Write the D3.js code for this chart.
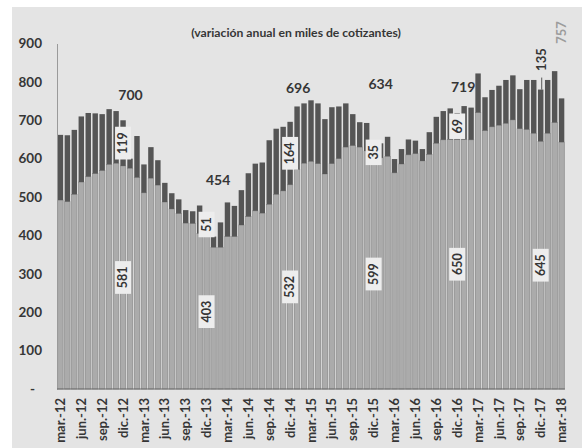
<!DOCTYPE html>
<html><head><meta charset="utf-8">
<script src="https://cdn.jsdelivr.net/npm/d3@7"></script>
<style>
body{margin:0;background:#fff}
svg{display:block}
text{font-family:Lato,"Open Sans",sans-serif;font-weight:bold}
</style>
</head><body><svg id="c" width="582" height="448"></svg>
<script>
// ---- data ----
const months = [
"mar.-12","abr.-12","may.-12","jun.-12","jul.-12","ago.-12","sep.-12","oct.-12","nov.-12","dic.-12",
"ene.-13","feb.-13","mar.-13","abr.-13","may.-13","jun.-13","jul.-13","ago.-13","sep.-13","oct.-13","nov.-13","dic.-13",
"ene.-14","feb.-14","mar.-14","abr.-14","may.-14","jun.-14","jul.-14","ago.-14","sep.-14","oct.-14","nov.-14","dic.-14",
"ene.-15","feb.-15","mar.-15","abr.-15","may.-15","jun.-15","jul.-15","ago.-15","sep.-15","oct.-15","nov.-15","dic.-15",
"ene.-16","feb.-16","mar.-16","abr.-16","may.-16","jun.-16","jul.-16","ago.-16","sep.-16","oct.-16","nov.-16","dic.-16",
"ene.-17","feb.-17","mar.-17","abr.-17","may.-17","jun.-17","jul.-17","ago.-17","sep.-17","oct.-17","nov.-17","dic.-17",
"ene.-18","feb.-18","mar.-18"];
// total annual variation (light + dark)
const totalSeries = [
662,661,675,710,719,718,716,729,724,700,
600,659,585,630,596,537,510,494,466,463,478,454,
397,434,486,477,518,562,587,590,648,678,683,696,
736,744,752,744,703,734,736,744,716,695,693,634,
640,657,599,625,650,647,625,669,709,724,731,719,
737,733,822,760,779,790,805,817,781,805,805,780,
805,828,757];
// light (lower) component
const baseSeries = [
492,488,507,539,553,561,569,585,588,581,
575,551,511,549,531,487,469,457,432,431,405,403,
369,369,397,397,427,449,464,458,481,507,516,532,
572,588,593,587,560,587,600,630,634,630,620,599,
602,606,563,586,610,613,594,611,640,649,650,650,
650,649,720,673,683,687,692,701,678,676,666,645,
666,694,643];
const yTicks = [0,100,200,300,400,500,600,700,800,900];
const xTickLabels = months.filter((d,i)=>i%3===0);
const highlighted = ["dic.-12","dic.-13","dic.-14","dic.-15","dic.-16","dic.-17"];
const totalLabelled = ["dic.-12","dic.-13","dic.-14","dic.-15","dic.-16"];
const title = "(variación anual en miles de cotizantes)";

// ---- layout ----
const W=582,H=448;
const svg=d3.select("#c");
svg.append("rect").attr("x",12).attr("y",7).attr("width",W-12).attr("height",H-7).attr("fill","#e4e4e4");

const x=d3.scaleBand().domain(months).range([57,565]).paddingInner(0.22).paddingOuter(0.1);
const y=d3.scaleLinear().domain([0,900]).range([389,43.5]);
const txt="#363636";

const rows=months.map((m,i)=>({m,total:totalSeries[i],base:baseSeries[i]}));

// bars
const gb=svg.append("g");
gb.selectAll("rect.base").data(rows).join("rect").attr("class","base")
  .attr("x",d=>x(d.m)).attr("width",x.bandwidth())
  .attr("y",d=>y(d.base)).attr("height",d=>y(0)-y(d.base))
  .attr("fill","#ababab").attr("stroke","#8a8a8a").attr("stroke-width",0.7);
gb.selectAll("rect.top").data(rows).join("rect").attr("class","top")
  .attr("x",d=>x(d.m)).attr("width",x.bandwidth())
  .attr("y",d=>y(d.total)).attr("height",d=>y(d.base)-y(d.total))
  .attr("fill","#555555");

// axes
const ya=svg.append("g").attr("transform","translate(57,0)")
  .call(d3.axisLeft(y).tickValues(yTicks).tickSize(0).tickSizeOuter(0).tickPadding(15)
  .tickFormat(d=>d===0?"-":d));
ya.select(".domain").attr("stroke","#9a9a9a");
ya.selectAll("text").attr("font-size",13.5).attr("fill",txt).attr("font-family","Lato")
  .attr("dx",d=>d===0?-7:0);

const xa=svg.append("g").attr("transform","translate(0,389)")
  .call(d3.axisBottom(x).tickValues(xTickLabels).tickSize(0).tickSizeOuter(0));
xa.select(".domain").attr("stroke","#6a6a6a").attr("d","M57,0H565");
xa.selectAll("text").attr("font-size",13).attr("fill",txt).attr("font-family","Lato")
  .attr("transform","rotate(-90)").attr("text-anchor","end")
  .attr("x",-9).attr("y",0).attr("dy","0.35em");

// title
svg.append("text").attr("x",296).attr("y",37).attr("text-anchor","middle")
  .attr("font-size",12.2).attr("fill",txt).text(title);

// boxed rotated labels
const ga=svg.append("g");
function boxedLabel(cx,cy,str){
  const g=ga.append("g").attr("transform",`translate(${cx},${cy})`);
  const r=g.append("rect").attr("fill","#ededed");
  const t=g.append("text").attr("transform","rotate(-90)").attr("text-anchor","middle")
    .attr("dy","0.35em").attr("font-size",12.5).attr("fill",txt).text(str);
  const L=t.node().getComputedTextLength();
  const h=L+11, w=16;
  r.attr("x",-w/2).attr("y",-h/2).attr("width",w).attr("height",h);
}
rows.filter(d=>highlighted.includes(d.m)).forEach(d=>{
  const cx=x(d.m)+x.bandwidth()/2;
  boxedLabel(cx,(y(0)+y(d.base))/2,String(d.base));
  if(d.m!=="dic.-17") boxedLabel(cx,(y(d.base)+y(d.total))/2,String(d.total-d.base));
});
// dic.-17 increment above bar with leader
{
  const d=rows.find(r=>r.m==="dic.-17");
  const cx=x(d.m)+x.bandwidth()/2;
  ga.append("text").attr("transform",`translate(${cx+1},${y(d.total)-30}) rotate(-90)`)
    .attr("text-anchor","middle").attr("dy","0.35em").attr("font-size",13).attr("fill",txt)
    .text(String(d.total-d.base));
  ga.append("line").attr("x1",cx+1).attr("x2",cx+1).attr("y1",y(d.total)-12).attr("y2",y(d.total))
    .attr("stroke","#333").attr("stroke-width",0.8);
}
// totals
const totalOffsets={"dic.-12":[7.5,-25],"dic.-13":[11.5,-35],"dic.-14":[8,-34],"dic.-15":[7,-62],"dic.-16":[6,-26]};
rows.filter(d=>totalLabelled.includes(d.m)).forEach(d=>{
  const o=totalOffsets[d.m];
  ga.append("text").attr("x",x(d.m)+x.bandwidth()/2+o[0]).attr("y",y(d.total)+o[1])
    .attr("text-anchor","middle").attr("dy","0.35em").attr("font-size",14).attr("fill",txt)
    .text(String(d.total));
});
// last value, grey rotated
{
  const d=rows[rows.length-1];
  const cx=x(d.m)+x.bandwidth()/2;
  ga.append("text").attr("transform",`translate(${cx},${y(d.total)-66}) rotate(-90)`)
    .attr("text-anchor","middle").attr("dy","0.35em").attr("font-size",13).attr("fill","#9c9c9c")
    .text(String(d.total));
}
</script></body></html>
